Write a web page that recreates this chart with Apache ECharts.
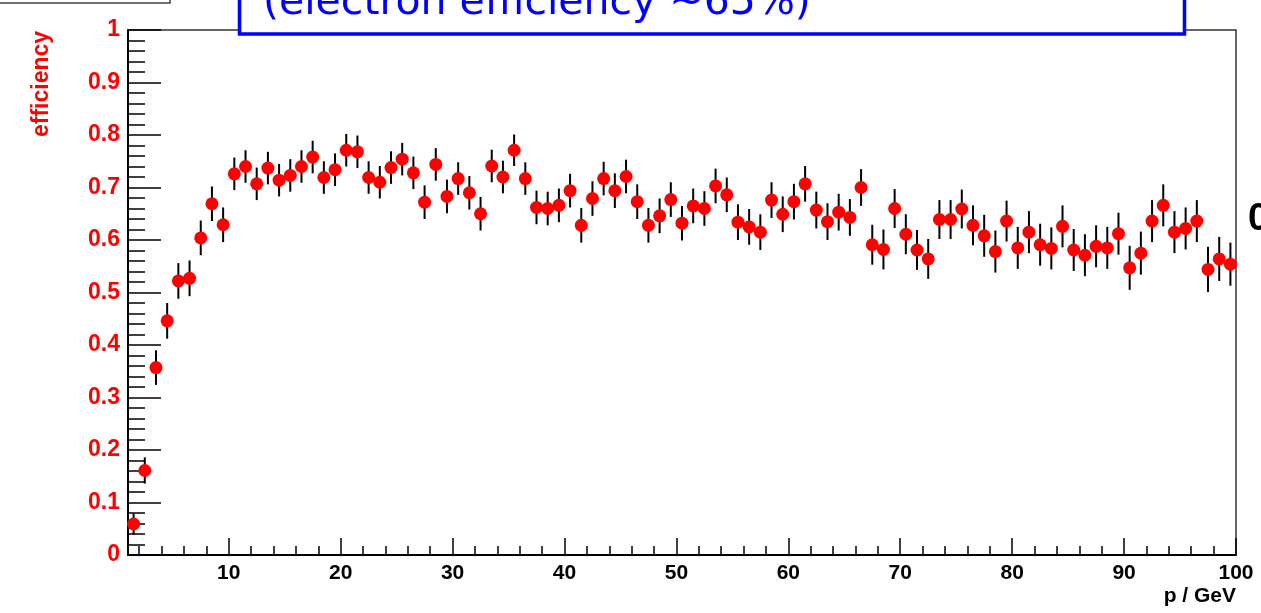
<!DOCTYPE html>
<html>
<head>
<meta charset="utf-8">
<script src="https://cdn.jsdelivr.net/npm/echarts@6/dist/echarts.min.js"></script>
<style>
html,body{margin:0;padding:0;background:#fff;}
#chart{width:1261px;height:613px;}
</style>
</head>
<body>
<div id="chart"></div>
<script>
// bin centres (p / GeV)
const pBins = [1.5,2.5,3.5,4.5,5.5,6.5,7.5,8.5,9.5,10.5,
  11.5,12.5,13.5,14.5,15.5,16.5,17.5,18.5,19.5,20.5,
  21.5,22.5,23.5,24.5,25.5,26.5,27.5,28.5,29.5,30.5,
  31.5,32.5,33.5,34.5,35.5,36.5,37.5,38.5,39.5,40.5,
  41.5,42.5,43.5,44.5,45.5,46.5,47.5,48.5,49.5,50.5,
  51.5,52.5,53.5,54.5,55.5,56.5,57.5,58.5,59.5,60.5,
  61.5,62.5,63.5,64.5,65.5,66.5,67.5,68.5,69.5,70.5,
  71.5,72.5,73.5,74.5,75.5,76.5,77.5,78.5,79.5,80.5,
  81.5,82.5,83.5,84.5,85.5,86.5,87.5,88.5,89.5,90.5,
  91.5,92.5,93.5,94.5,95.5,96.5,97.5,98.5,99.5];
// efficiency values
const efficiency = [0.059,0.161,0.357,0.446,0.522,0.527,0.604,0.669,0.629,0.726,
  0.740,0.707,0.737,0.714,0.723,0.740,0.758,0.719,0.734,0.771,
  0.768,0.719,0.710,0.738,0.754,0.728,0.672,0.744,0.683,0.717,
  0.690,0.650,0.741,0.720,0.771,0.717,0.662,0.660,0.666,0.694,
  0.628,0.679,0.717,0.694,0.721,0.673,0.628,0.646,0.677,0.632,
  0.665,0.660,0.703,0.686,0.634,0.625,0.615,0.676,0.649,0.673,
  0.707,0.657,0.635,0.653,0.643,0.700,0.591,0.582,0.660,0.611,
  0.581,0.564,0.639,0.639,0.659,0.628,0.608,0.578,0.636,0.585,
  0.615,0.591,0.584,0.626,0.581,0.571,0.588,0.585,0.612,0.547,
  0.575,0.636,0.666,0.615,0.622,0.636,0.544,0.564,0.554];
// symmetric errors
const errors = [0.020,0.025,0.033,0.034,0.034,0.034,0.033,0.033,0.033,0.031,
  0.031,0.031,0.031,0.031,0.031,0.031,0.031,0.031,0.031,0.031,
  0.031,0.031,0.031,0.031,0.031,0.031,0.032,0.031,0.032,0.031,
  0.032,0.032,0.031,0.031,0.030,0.031,0.032,0.032,0.032,0.032,
  0.033,0.033,0.032,0.033,0.032,0.033,0.033,0.033,0.033,0.033,
  0.033,0.033,0.033,0.033,0.034,0.034,0.034,0.034,0.034,0.034,
  0.034,0.035,0.035,0.035,0.035,0.035,0.038,0.038,0.037,0.038,
  0.038,0.038,0.037,0.037,0.037,0.038,0.040,0.040,0.039,0.040,
  0.040,0.040,0.040,0.040,0.040,0.040,0.040,0.040,0.040,0.042,
  0.041,0.040,0.040,0.040,0.040,0.040,0.043,0.042,0.041];
const majorXTicks = [10,20,30,40,50,60,70,80,90,100];
const minorXTicks = [2,4,6,8,12,14,16,18,22,24,26,28,32,34,36,38,42,44,46,48,
  52,54,56,58,62,64,66,68,72,74,76,78,82,84,86,88,92,94,96,98];

const pts = pBins.map((p,i)=>[p, efficiency[i], errors[i]]);

const chart = echarts.init(document.getElementById('chart'), null, {renderer:'canvas'});
const option = {
  animation:false,
  backgroundColor:'#fff',
  grid:{left:128, top:30, right:25, bottom:58, show:true, borderColor:'#333', borderWidth:1.5, backgroundColor:'transparent'},
  xAxis:[{
    type:'value', min:1, max:100,
    axisLine:{show:true, onZero:false, lineStyle:{color:'#000', width:2}},
    axisTick:{show:true, inside:true, length:17, customValues:majorXTicks, lineStyle:{color:'#000', width:1.5}},
    axisLabel:{customValues:majorXTicks, color:'#000', fontFamily:'Liberation Sans', fontWeight:'bold', fontSize:21, margin:8},
    splitLine:{show:false},
    name:'p / GeV', nameLocation:'end', nameGap:0,
    nameTextStyle:{color:'#000', fontFamily:'Liberation Sans', fontWeight:'bold', fontSize:21, align:'right', verticalAlign:'top', padding:[31,0,0,0]}
  },{
    type:'value', min:1, max:100, position:'bottom',
    axisLine:{show:false},
    axisTick:{show:true, inside:true, length:9, customValues:minorXTicks, lineStyle:{color:'#000', width:1.5}},
    axisLabel:{show:false},
    splitLine:{show:false}
  }],
  yAxis:{
    type:'value', min:0, max:1, interval:0.1,
    axisLine:{show:true, onZero:false, lineStyle:{color:'#000', width:2}},
    axisTick:{show:true, inside:true, length:33, lineStyle:{color:'#000', width:1.5}},
    minorTick:{show:true, splitNumber:5, length:17, lineStyle:{color:'#000', width:1.5}},
    axisLabel:{color:'#ff0000', fontFamily:'Liberation Sans', fontWeight:'bold', fontSize:23, margin:8,
      formatter:function(v){ return (v===0||v===1)? String(v) : v.toFixed(1); }},
    splitLine:{show:false}
  },
  graphic:[
    {type:'rect', shape:{x:-5, y:-20, width:175, height:23}, style:{fill:'#fff', stroke:'#444', lineWidth:1.5}, z:100},
    {type:'rect', shape:{x:239.5, y:-20, width:945, height:54}, style:{fill:'#fff', stroke:'#0000ff', lineWidth:3.5}, z:100},
    {type:'text', x:263, y:3, style:{text:'(electron efficiency ~65%)', fill:'#0000ff', font:'41px "DejaVu Sans"', verticalAlign:'middle'}, z:101},
    {type:'text', x:42, y:84, rotation:Math.PI/2, style:{text:'efficiency', fill:'#ff0000', font:'bold 23px "Liberation Sans"', align:'center', verticalAlign:'middle'}, z:101},
    {type:'text', x:1248, y:220, style:{text:'0', fill:'#000', font:'bold 38px "Liberation Sans"', verticalAlign:'middle'}, z:101}
  ],
  series:[{
    type:'custom',
    xAxisIndex:0,
    renderItem:function(params, api){
      const x = api.value(0), y = api.value(1), e = api.value(2);
      const p1 = api.coord([x, y+e]);
      const p2 = api.coord([x, y-e]);
      return {type:'line', shape:{x1:p1[0], y1:p1[1], x2:p2[0], y2:p2[1]}, style:{stroke:'#000', lineWidth:2}};
    },
    encode:{x:0, y:1},
    data:pts,
    z:2
  },{
    type:'scatter',
    xAxisIndex:0,
    symbol:'circle', symbolSize:13,
    itemStyle:{color:'#ff0000', opacity:1},
    data:pts.map(d=>[d[0], d[1]]),
    z:3
  }]
};
chart.setOption(option);
</script>
</body>
</html>
